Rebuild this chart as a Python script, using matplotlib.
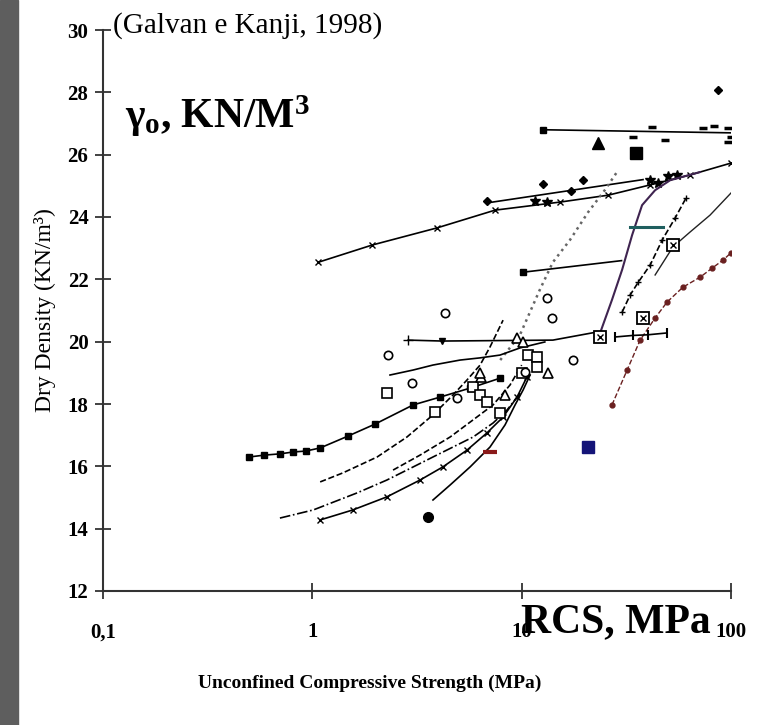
import matplotlib
matplotlib.use("Agg")
import matplotlib.pyplot as plt
from matplotlib.patches import Rectangle
from matplotlib.ticker import NullLocator

plt.rcParams["font.family"] = ["Liberation Serif", "DejaVu Serif"]
plt.rcParams["mathtext.fontset"] = "custom"
plt.rcParams["mathtext.rm"] = "Liberation Serif:bold"
plt.rcParams["mathtext.it"] = "Liberation Serif:bold"
plt.rcParams["mathtext.bf"] = "Liberation Serif:bold"

# --- data (UCS in MPa, dry density in kN/m3) ---
sq_x = [0.50, 0.59, 0.70, 0.81, 0.93, 1.09, 1.48, 2.0, 3.03, 4.07, 5.67, 7.9]
sq_y = [16.30, 16.36, 16.40, 16.46, 16.49, 16.59, 16.97, 17.36, 17.97, 18.22, 18.51, 18.83]

cross_x = [1.07, 1.93, 3.94, 7.46, 15.3, 25.9, 41.1, 63.8, 100]
cross_y = [22.55, 23.10, 23.65, 24.22, 24.48, 24.70, 25.03, 25.35, 25.73]

diam_line_x = [6.8, 38]
diam_line_y = [24.45, 25.2]
diam_x = [6.8, 12.6, 17.2, 19.6, 86.7]
diam_y = [24.5, 25.05, 24.85, 25.2, 28.07]
star_x = [11.6, 13.2, 41, 45, 50, 55]
star_y = [24.5, 24.48, 25.2, 25.1, 25.3, 25.35]

top_x = [12.6, 100]
top_y = [26.8, 26.7]
top_mk_x = [34, 42, 48.6, 73.6, 82.7, 97, 100, 97]
top_mk_y = [26.57, 26.89, 26.47, 26.85, 26.92, 26.85, 26.57, 26.4]
tri_top = (23.2, 26.37)
big_sq_top = (35.2, 26.05)

dot_x = [7.9, 9.8, 12.2, 14.1, 17.0, 20.8, 25.0, 28.9]
dot_y = [19.41, 20.21, 21.66, 22.55, 23.26, 24.16, 24.87, 25.5]

h20_x = [2.87, 4.17, 14.1, 22.9]
h20_y = [20.05, 20.02, 20.05, 20.31]

e_x = [10.2, 30]
e_y = [22.23, 22.6]

steep_x = [23.7, 27.0, 30.2, 33.7, 37.6, 43.4, 51.2, 71]
steep_y = [20.28, 21.34, 22.31, 23.42, 24.38, 24.86, 25.18, 25.44]

plus_x = [30.2, 33, 36, 41.1, 46.9, 54.1, 61.0]
plus_y = [20.95, 21.5, 21.9, 22.46, 23.26, 23.97, 24.61]

thin_x = [43.4, 52.8, 63.8, 79.4, 100]
thin_y = [22.14, 23.04, 23.52, 24.06, 24.77]

red_x = [27.0, 31.9, 36.8, 43.4, 49.5, 59.0, 71.2, 81.3, 91.7, 100]
red_y = [17.97, 19.09, 20.05, 20.76, 21.27, 21.75, 22.07, 22.36, 22.62, 22.85]

teal_x = [33.0, 47.4]
teal_y = [23.68, 23.68]

flat_x = [27.9, 34, 40, 49.5]
flat_y = [20.15, 20.2, 20.22, 20.28]

boxed_x = [23.7, 38, 52.8]
boxed_y = [20.15, 20.76, 23.1]

blue_sq = (20.8, 16.62)

dashdot_x = [0.70, 1.01, 1.64, 2.27, 3.03, 3.77, 4.70, 5.86, 7.30, 8.52, 9.83]
dashdot_y = [14.34, 14.60, 15.15, 15.56, 15.98, 16.30, 16.62, 16.94, 17.39, 17.81, 18.35]

lowx_x = [1.09, 1.56, 2.27, 3.27, 4.20, 5.48, 6.82, 8.15, 9.5, 10.6]
lowx_y = [14.28, 14.60, 15.02, 15.56, 15.98, 16.52, 17.07, 17.58, 18.22, 18.87]

dash_x = [1.09, 1.40, 2.04, 2.83, 3.77, 4.70, 5.48, 6.33, 7.06, 8.15]
dash_y = [15.50, 15.79, 16.30, 16.94, 17.65, 18.29, 18.77, 19.25, 19.83, 20.69]

dash2_x = [2.43, 3.27, 4.55, 5.86, 7.30, 8.80, 10.0]
dash2_y = [15.88, 16.36, 16.94, 17.49, 17.97, 18.61, 19.25]

steep_low_x = [3.77, 4.55, 5.67, 7.06, 8.33, 9.30, 10.16, 10.97]
steep_low_y = [14.92, 15.40, 15.98, 16.62, 17.33, 17.97, 18.45, 18.93]

upper_x = [2.35, 3.03, 3.77, 5.08, 6.33, 7.88, 9.83, 12.9]
upper_y = [18.93, 19.09, 19.25, 19.41, 19.48, 19.57, 19.80, 19.99]

osq_x = [2.27, 3.86, 5.86, 6.33, 6.82, 7.88, 10.0, 10.7, 11.9, 11.9]
osq_y = [18.35, 17.74, 18.54, 18.29, 18.06, 17.71, 18.99, 19.57, 19.51, 19.19]

otri_x = [6.4, 9.5, 10.2, 6.3, 13.4, 8.3]
otri_y = [18.87, 20.12, 19.99, 18.99, 18.99, 18.29]

ocirc_x = [2.31, 3.0, 4.31, 13.2, 14.0, 17.6, 4.9, 10.4]
ocirc_y = [19.57, 18.67, 20.92, 21.40, 20.76, 19.41, 18.19, 19.03]

blob_x = [7.0, 7.3, 7.6, 7.9, 8.15]
blob_y = [18.77, 18.54, 18.29, 18.13, 18.83]

dot_single = (3.55, 14.37)
red_dash = (7.06, 16.46)

x_ticks = [0.1, 1, 10, 100]
x_labels = ["0,1", "1", "10", "100"]
y_ticks = [12, 14, 16, 18, 20, 22, 24, 26, 28, 30]

W, H = 784, 725
fig = plt.figure(figsize=(W / 100, H / 100), dpi=100)
fig.patches.append(Rectangle((0, 0), 18 / W, 1, transform=fig.transFigure,
                             color="#5e5e5e", zorder=0))
ax = fig.add_axes([103 / W, 1 - 591 / H, 628 / W, 561 / H])
ax.set_xscale("log")
ax.set_xlim(0.1, 100)
ax.set_ylim(12, 30)
ax.patch.set_alpha(0)

k = "black"
lw = 1.2
ax.plot(sq_x, sq_y, "-", color=k, lw=lw, marker="s", ms=4)
ax.plot(cross_x, cross_y, "-", color=k, lw=lw, marker="x", ms=4.5, mew=1)
ax.plot(diam_line_x, diam_line_y, "-", color=k, lw=lw)
ax.plot(diam_x, diam_y, "D", color=k, ms=4.5, ls="none")
ax.plot(star_x, star_y, "*", color=k, ms=7, ls="none")
ax.plot(top_x, top_y, "-", color=k, lw=lw)
ax.plot(top_x[:1], top_y[:1], "s", color=k, ms=5)
ax.plot(top_mk_x, top_mk_y, "_", color=k, ms=6, mew=2.5, ls="none")
ax.plot(*tri_top, "^", color=k, ms=8)
ax.plot(*big_sq_top, "s", color=k, ms=8)
ax.plot(dot_x, dot_y, ":", color="#666666", lw=1.8)
ax.plot(h20_x, h20_y, "-", color=k, lw=lw)
ax.plot(h20_x[:1], h20_y[:1], "+", color=k, ms=7)
ax.plot(h20_x[1:2], h20_y[1:2], "v", color=k, ms=5)
ax.plot(e_x, e_y, "-", color=k, lw=lw)
ax.plot(e_x[:1], e_y[:1], "s", color=k, ms=5)
ax.plot(steep_x, steep_y, "-", color="#3f2450", lw=1.5)
ax.plot(plus_x, plus_y, "--", color=k, lw=lw, marker="+", ms=5)
ax.plot(thin_x, thin_y, "-", color="#222222", lw=1.0)
ax.plot(red_x, red_y, "--", color="#6a2020", lw=1.0, marker="o", ms=3.5)
ax.plot(teal_x, teal_y, "-", color="#1f5f5f", lw=2.2)
ax.plot(flat_x, flat_y, "-", color=k, lw=lw, marker="|", ms=7, mew=1.5)
ax.plot(boxed_x, boxed_y, "s", mfc="white", mec=k, ms=9, mew=1.3, ls="none")
ax.plot(boxed_x, boxed_y, "x", color=k, ms=5, mew=1, ls="none")
ax.plot(*blue_sq, "s", color="#141478", ms=9)
ax.plot(dashdot_x, dashdot_y, "-.", color=k, lw=lw)
ax.plot(lowx_x, lowx_y, "-", color=k, lw=lw, marker="x", ms=4, mew=1)
ax.plot(dash_x, dash_y, "--", color=k, lw=lw)
ax.plot(dash2_x, dash2_y, "--", color=k, lw=lw)
ax.plot(steep_low_x, steep_low_y, "-", color=k, lw=lw)
ax.plot(upper_x, upper_y, "-", color=k, lw=lw)
ax.plot(osq_x, osq_y, "s", mfc="white", mec=k, ms=7, mew=1.2, ls="none")
ax.plot(otri_x, otri_y, "^", mfc="white", mec=k, ms=7, mew=1.2, ls="none")
ax.plot(ocirc_x, ocirc_y, "o", mfc="white", mec=k, ms=6, mew=1.2, ls="none")
ax.plot(blob_x, blob_y, (6, 2, 0), color=k, ms=8, mew=2, ls="none")
ax.plot(*dot_single, "o", color=k, ms=7)
ax.plot(*red_dash, "_", color="#8a1a1a", ms=10, mew=3)

for s in ("top", "right"):
    ax.spines[s].set_visible(False)
for s in ("left", "bottom"):
    ax.spines[s].set_linewidth(1.5)
    ax.spines[s].set_color("#333333")

ax.set_xticks(x_ticks)
ax.set_xticklabels(x_labels, fontsize=15, fontweight="bold")
ax.xaxis.set_minor_locator(NullLocator())
ax.set_yticks(y_ticks)
ax.set_yticklabels([str(v) for v in y_ticks], fontsize=15, fontweight="bold")
ax.tick_params(direction="inout", length=11, width=1.3, color="#333333")
ax.tick_params(axis="x", pad=17)
ax.tick_params(axis="y", pad=5)

fig.text(113 / W, 1 - 33 / H, "(Galvan e Kanji, 1998)", fontsize=21,
         ha="left", va="baseline")
fig.text(125 / W, 1 - 128 / H, r"$\gamma_o$, KN/M$^3$", fontsize=30,
         fontweight="bold", ha="left", va="baseline")
fig.text(521 / W, 1 - 632 / H, "RCS, MPa", fontsize=30, fontweight="bold",
         ha="left", va="baseline")
fig.text(45 / W, 1 - 310 / H, "Dry Density (KN/m³)", fontsize=17,
         rotation=90, ha="center", va="center")
fig.text(370 / W, 1 - 683 / H, "Unconfined Compressive Strength (MPa)",
         fontsize=14, fontweight="bold", ha="center", va="center")

fig.savefig("out.png", dpi=100)
